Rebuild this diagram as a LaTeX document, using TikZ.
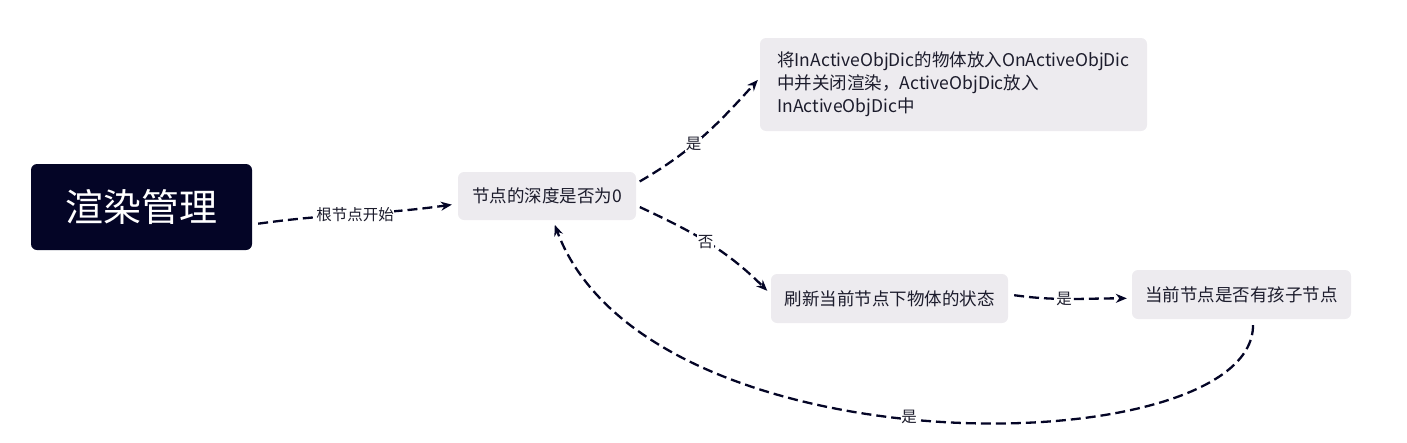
\documentclass[tikz,border=0pt]{standalone}
\usepackage{fontspec}
\setmainfont{Noto Sans CJK SC}
\usepackage{xcolor}
\usetikzlibrary{arrows.meta}
\definecolor{navy}{RGB}{4,5,38}
\definecolor{boxgray}{RGB}{237,235,239}
\definecolor{txtdark}{RGB}{28,28,44}
\tikzset{
  flownode/.style = {align=center, inner sep=0pt, text centered,
    rounded corners=6pt},
  fn_root/.style = {flownode, fill=navy, text=white,
    font=\fontsize{38}{42}\selectfont},% noeud racine
  fn_g/.style = {flownode, fill=boxgray, text=txtdark,
    font=\fontsize{17.5}{23}\selectfont},% noeud gris
  fn_l/.style = {fill=white, inner sep=0.5pt, text=txtdark,
    font=\fontsize{15.5}{15.5}\selectfont},% etiquette
  fn_e/.style = {-{Stealth[length=11pt,width=9pt]}, navy, line width=2.3pt,
    dash pattern=on 10pt off 5pt}% lien
}

\begin{document}
\begin{tikzpicture}[x=1pt, y=-1pt]
\useasboundingbox (0,0) rectangle (1407,442);

\node[fn_root, minimum width=221pt, minimum height=86pt] (root) at (141.5,207) {渲染管理};
\node[fn_g, minimum width=178pt, minimum height=48pt] (q1) at (547,196) {节点的深度是否为0};
\node[fn_g, minimum width=387pt, minimum height=93pt, align=left] (act) at (953.5,84.5)
	{将InActiveObjDic的物体放入OnActiveObjDic\\中并关闭渲染，ActiveObjDic放入\\InActiveObjDic中};
\node[fn_g, minimum width=237pt, minimum height=49pt] (refresh) at (889.5,298.5) {刷新当前节点下物体的状态};
\node[fn_g, minimum width=219pt, minimum height=49pt] (child) at (1241.5,294.5) {当前节点是否有孩子节点};

\draw[fn_e, shorten <=6pt, shorten >=6pt] (root.-9) to[out=8,in=188] node[fn_l] {根节点开始} (q1.185);
\draw[fn_e, shorten <=4pt, shorten >=3pt] (q1.8) to[out=30,in=228] node[fn_l, pos=0.42] {是} (act.178);
\draw[fn_e, shorten <=4pt, shorten >=5pt] (q1.-6) to[out=-25,in=135] node[fn_l, pos=0.48] {否} (refresh.178);
\draw[fn_e, shorten <=6pt, shorten >=5pt] (refresh.2) to[out=-8,in=180] node[fn_l, pos=0.45] {是} (child.182);
\draw[fn_e, shorten <=6pt, shorten >=5pt] (child.-65) .. controls +(0,145) and +(95,255) .. node[fn_l, pos=0.53] {是} (q1.-76);
\end{tikzpicture}
\end{document}
